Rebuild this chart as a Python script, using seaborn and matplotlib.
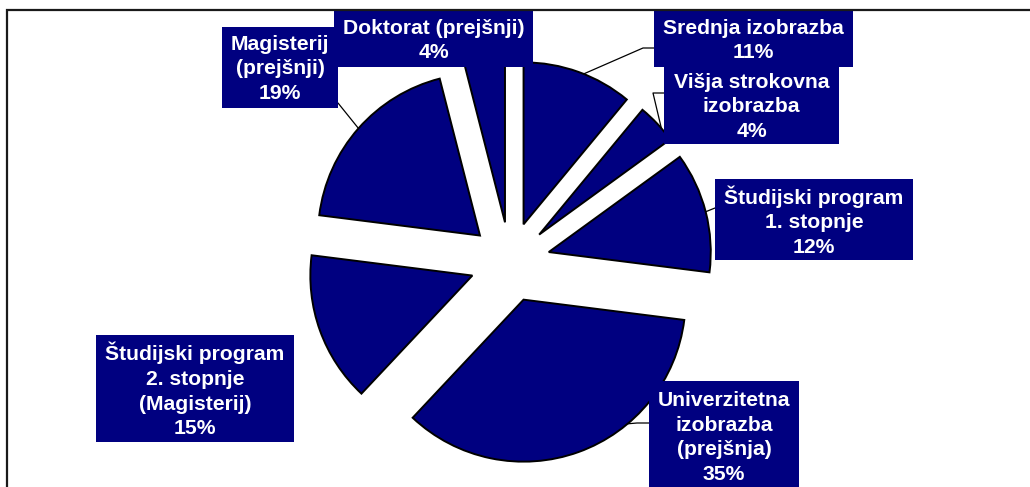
import numpy as np
import matplotlib.pyplot as plt
from matplotlib.patches import Rectangle
import seaborn as sns

# data
categories = ['Srednja izobrazba', 'Višja strokovna\nizobrazba',
              'Študijski program\n1. stopnje', 'Univerzitetna\nizobrazba\n(prejšnja)',
              'Študijski program\n2. stopnje\n(Magisterij)', 'Magisterij\n(prejšnji)',
              'Doktorat (prejšnji)']
shares = [11, 4, 12, 35, 15, 19, 4]

sns.set_theme(style='white')
plt.rcParams['font.family'] = ['Liberation Sans', 'DejaVu Sans']

W, H = 1030, 487
navy = '#000080'
R = 162

fig = plt.figure(figsize=(W / 100, H / 100), dpi=100)
ax = fig.add_axes([0, 0, 1, 1])

def px(x, y):
    # screen pixel -> data coords
    return x, H - y

# matplotlib explode is in data units, so 0.247 of the radius
wedges, _ = ax.pie(shares, startangle=90, counterclock=False,
                   explode=[0.247 * R] * len(shares), radius=R, center=px(510, 262),
                   colors=[navy] * len(shares),
                   wedgeprops=dict(edgecolor='black', linewidth=1.4),
                   frame=True)
ax.set_xlim(0, W)
ax.set_ylim(0, H)
ax.set_aspect('equal')
ax.axis('off')

# label boxes (screen px: left, top, right, bottom)
boxes = [(654, 11, 853, 67), (664, 67, 839, 144), (715, 179, 913, 260),
         (649, 381, 799, 492), (96, 335, 294, 442), (222, 27, 338, 108),
         (334, 11, 533, 67)]
# leader lines: fraction along wedge (clockwise), elbow, end on box (None = no line)
leaders = [(0.55, [(643, 48), (654, 48)]),
           (0.65, [(653, 93), (664, 93)]),
           (0.5, [(715, 208)]),
           (0.34, [(637, 423), (649, 423)]),
           None,
           (0.5, [(338, 103)]),
           None]

for w, cat, val, (l, t, r, b), lead in zip(wedges, categories, shares, boxes, leaders):
    x0, y0 = px(l, b)
    ax.add_patch(Rectangle((x0, y0), r - l, b - t, facecolor=navy,
                           edgecolor='none', zorder=5))
    cx, cy = px((l + r) / 2, (t + b) / 2 + 1.5)
    if b > H:
        cy = H - 437.5
    ax.text(cx, cy, f'{cat}\n{val}%', ha='center', va='center', color='white',
            fontsize=15.2, fontweight='bold', linespacing=1.38, zorder=6)
    if lead is not None:
        frac, pts = lead
        # wedge angles are stored low->high, pie runs clockwise from theta2
        th = np.deg2rad(w.theta2 - frac * (w.theta2 - w.theta1))
        sx = w.center[0] + w.r * np.cos(th)
        sy = w.center[1] + w.r * np.sin(th)
        xs = [sx] + [p[0] for p in pts]
        ys = [sy] + [H - p[1] for p in pts]
        ax.plot(xs, ys, color='black', linewidth=0.9, zorder=4)

# chart frame (top and left edges visible)
fig.add_artist(Rectangle((7 / W, -0.1), 1.2, 1 - 10 / H + 0.1, transform=fig.transFigure,
                         fill=False, edgecolor='#1a1a1a', linewidth=1.6, zorder=10))

fig.savefig('out.png', dpi=100, facecolor='white')
